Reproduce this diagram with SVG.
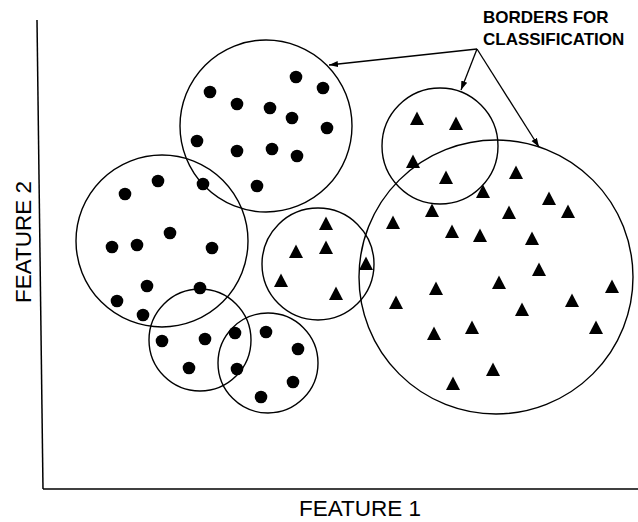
<svg xmlns="http://www.w3.org/2000/svg" width="638" height="522" viewBox="0 0 638 522">
<style>
.b{fill:none;stroke:#000;stroke-width:1.4}
.ax{fill:none;stroke:#000;stroke-width:1.5}
.d{fill:#000}
.lbl{font-family:"Liberation Sans",Arial,sans-serif;fill:#000}
</style>
<defs>
<circle id="dot" r="6.3" class="d"/>
<path id="tri" d="M0,-7.5 L7,6 L-7,6 Z" class="d"/>
<marker id="ah" viewBox="0 0 10 10" refX="10" refY="5" markerWidth="9" markerHeight="9" orient="auto" markerUnits="userSpaceOnUse">
<path d="M0,1.5 L10,5 L0,8.5 Z" fill="#000"/>
</marker>
</defs>
<rect width="638" height="522" fill="#fff"/>
<g id="axes">
<line class="ax" x1="37" y1="20" x2="43" y2="489"/>
<line class="ax" x1="43" y1="489" x2="638" y2="489"/>
</g>
<text class="lbl" x="360" y="516" font-size="22.5" text-anchor="middle">FEATURE 1</text>
<text class="lbl" transform="translate(31,242) rotate(-90)" font-size="22.5" text-anchor="middle">FEATURE 2</text>
<g id="label">
<text class="lbl" x="483" y="23" font-size="17" font-weight="bold">BORDERS FOR</text>
<text class="lbl" x="483" y="45" font-size="17" font-weight="bold">CLASSIFICATION</text>
</g>
<g id="clusterA">
<circle class="b" cx="266" cy="126" r="86"/>
<use href="#dot" x="296" y="77"/><use href="#dot" x="323" y="88"/><use href="#dot" x="210" y="92"/>
<use href="#dot" x="237" y="104"/><use href="#dot" x="270" y="108"/><use href="#dot" x="292" y="118"/>
<use href="#dot" x="327" y="128"/><use href="#dot" x="197" y="141"/><use href="#dot" x="237" y="151"/>
<use href="#dot" x="272" y="149"/><use href="#dot" x="297" y="156"/><use href="#dot" x="257" y="186"/>
</g>
<g id="clusterB">
<circle class="b" cx="162" cy="241" r="86"/>
<use href="#dot" x="158" y="181"/><use href="#dot" x="125" y="194"/><use href="#dot" x="203" y="184"/>
<use href="#dot" x="170" y="233"/><use href="#dot" x="112" y="247"/><use href="#dot" x="137" y="245"/>
<use href="#dot" x="212" y="248"/><use href="#dot" x="147" y="286"/><use href="#dot" x="117" y="301"/>
<use href="#dot" x="200" y="288"/><use href="#dot" x="143" y="315"/>
</g>
<g id="clusterC">
<circle class="b" cx="200" cy="340" r="51"/>
<use href="#dot" x="162" y="341"/><use href="#dot" x="205" y="339"/><use href="#dot" x="189" y="368"/>
<use href="#dot" x="235" y="333"/><use href="#dot" x="237" y="369"/>
</g>
<g id="clusterD">
<circle class="b" cx="268" cy="363" r="50"/>
<use href="#dot" x="266" y="332"/><use href="#dot" x="298" y="349"/><use href="#dot" x="293" y="382"/>
<use href="#dot" x="261" y="397"/>
</g>
<g id="clusterE">
<circle class="b" cx="318" cy="264" r="56"/>
<use href="#tri" x="326" y="224"/><use href="#tri" x="296" y="252"/><use href="#tri" x="326" y="248"/>
<use href="#tri" x="281" y="281"/><use href="#tri" x="336" y="294"/><use href="#tri" x="366" y="264"/>
</g>
<g id="clusterF">
<circle class="b" cx="440" cy="146" r="58"/>
<use href="#tri" x="417" y="119"/><use href="#tri" x="456" y="124"/><use href="#tri" x="413" y="162"/>
<use href="#tri" x="446" y="178"/>
</g>
<g id="clusterG">
<circle class="b" cx="496" cy="277" r="137"/>
<use href="#tri" x="483" y="192"/><use href="#tri" x="516" y="173"/><use href="#tri" x="549" y="199"/>
<use href="#tri" x="432" y="211"/><use href="#tri" x="509" y="213"/><use href="#tri" x="568" y="212"/>
<use href="#tri" x="393" y="223"/><use href="#tri" x="452" y="232"/><use href="#tri" x="480" y="236"/>
<use href="#tri" x="532" y="239"/><use href="#tri" x="539" y="270"/><use href="#tri" x="499" y="283"/>
<use href="#tri" x="612" y="287"/><use href="#tri" x="436" y="289"/><use href="#tri" x="396" y="303"/>
<use href="#tri" x="572" y="301"/><use href="#tri" x="522" y="310"/><use href="#tri" x="472" y="328"/>
<use href="#tri" x="434" y="334"/><use href="#tri" x="596" y="328"/><use href="#tri" x="493" y="370"/>
<use href="#tri" x="453" y="384"/>
</g>
<g id="connectors" stroke="#000" stroke-width="1.3" fill="none">
<line x1="477" y1="49" x2="329" y2="65" marker-end="url(#ah)"/>
<line x1="477" y1="49" x2="461" y2="90" marker-end="url(#ah)"/>
<line x1="477" y1="49" x2="539" y2="147" marker-end="url(#ah)"/>
</g>
</svg>
